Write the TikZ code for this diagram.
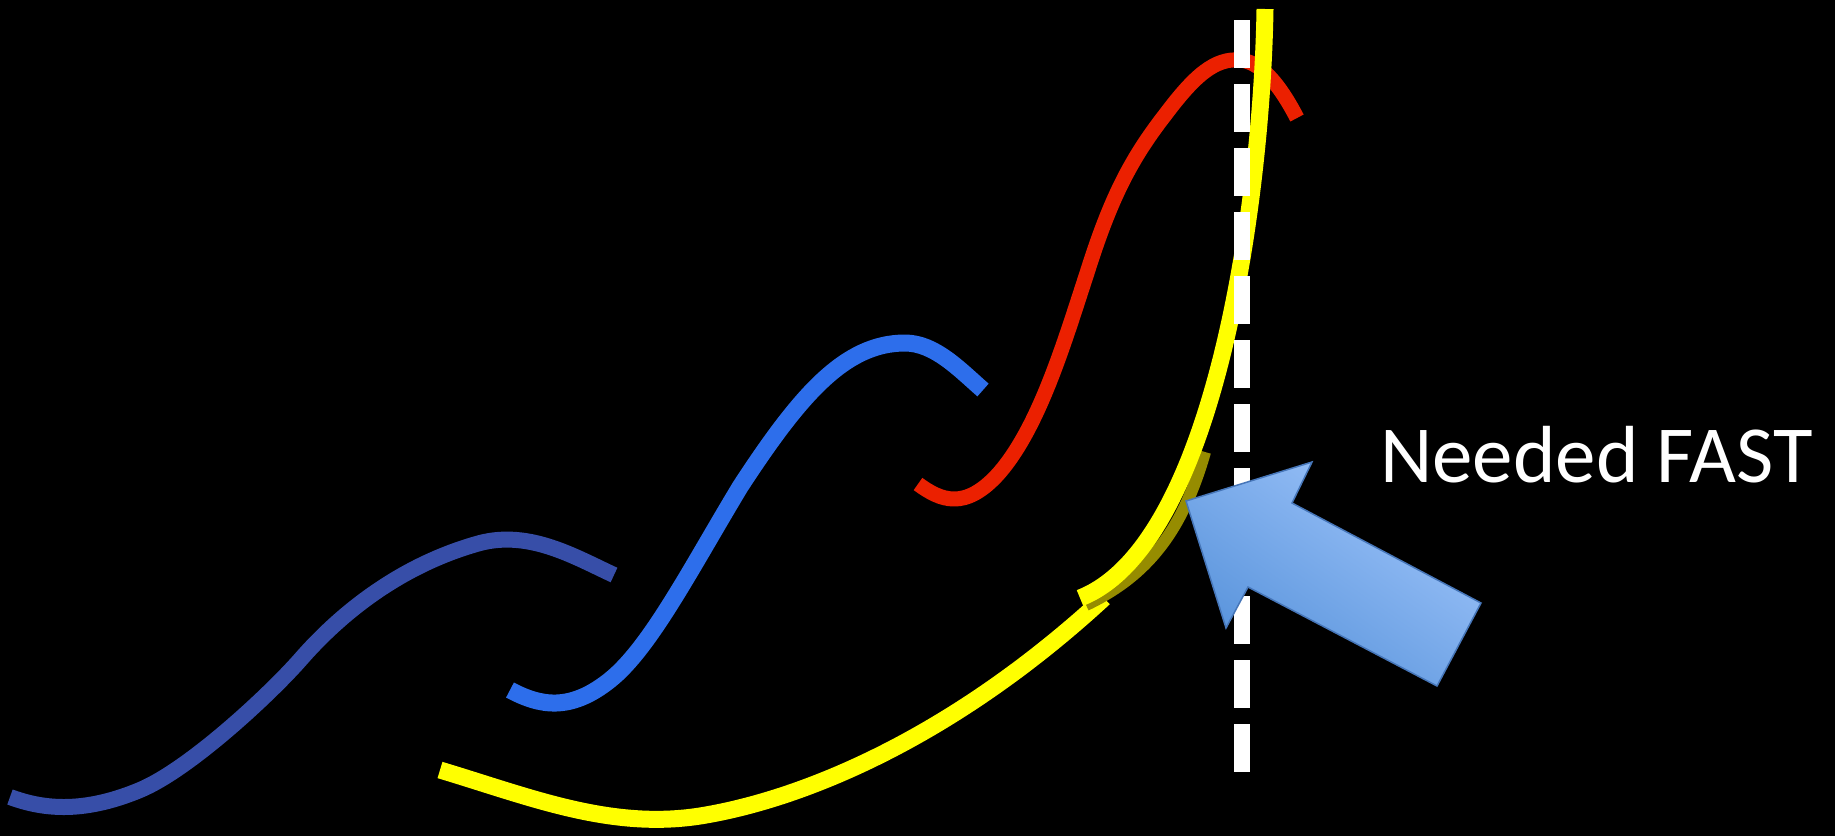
\documentclass[tikz,border=0pt]{standalone}
\usepackage{fontspec}
\setmainfont{Carlito}
\definecolor{navycurve}{RGB}{55,78,168}
\definecolor{bluecurve}{RGB}{45,110,235}
\definecolor{redcurve}{RGB}{235,32,0}
\definecolor{yellowcurve}{RGB}{255,255,0}
\definecolor{yellowshadow}{RGB}{150,140,0}
\definecolor{arrowlight}{RGB}{158,196,250}
\definecolor{arrowdark}{RGB}{85,145,218}
\definecolor{arrowborder}{RGB}{70,118,185}
\tikzset{
  wave/.style={line width=16pt, line cap=butt, line join=round},
  deadline/.style={draw=white, line width=16pt, dash pattern=on 48pt off 16pt, line cap=butt},
  fastarrow/.style={draw=arrowborder, line width=1.5pt, line join=miter, top color=arrowlight, bottom color=arrowdark, shading angle=-35},
  labeltext/.style={text=white, inner sep=0pt, font=\fontsize{81}{95}\selectfont}
}
\begin{document}
\begin{tikzpicture}[x=1pt,y=-1pt]
\useasboundingbox (0,0) rectangle (1835,836);
\fill[black] (0,0) rectangle (1835,836);

% navy curve
\draw[wave, navycurve] (10,797) .. controls (40,808) and (80,815) .. (140,790)
  .. controls (190,769) and (270,694) .. (300,660)
  .. controls (340,614) and (400,565) .. (480,543)
  .. controls (530,530) and (575,557) .. (614,575);

% blue curve
\draw[wave, bluecurve, line width=17pt] (510,690) .. controls (540,706) and (570,712) .. (610,680)
  .. controls (650,648) and (690,570) .. (740,487)
  .. controls (800,395) and (845,343) .. (905,343)
  .. controls (935,343) and (960,370) .. (983,390);

% red curve
\draw[wave, redcurve, line width=15pt] (918,484) .. controls (940,500) and (965,512) .. (1000,472)
  .. controls (1040,425) and (1065,340) .. (1087,273)
  .. controls (1110,200) and (1130,160) .. (1165,115)
  .. controls (1195,75) and (1215,58) .. (1240,60)
  .. controls (1265,62) and (1285,95) .. (1297,118);

% yellow lower curve
\draw[wave, yellowcurve, line width=17pt] (440,770) .. controls (530,797) and (610,830) .. (700,816)
  .. controls (800,800) and (950,740) .. (1104,598);

% yellow upper curve shadow
\draw[wave, yellowshadow, line width=12pt] (1086,605) .. controls (1140,579) and (1180,540) .. (1205,452);
% yellow upper curve
\draw[wave, yellowcurve, line width=17pt] (1080,598) .. controls (1215,545) and (1262,200) .. (1265,9);

% dashed deadline
\coordinate (dtop) at (1242,20);
\coordinate (dbot) at (1242,772);
\draw[deadline] (dtop) -- (dbot);

% arrow
\shade[fastarrow] (1186,501) -- (1312,462) -- (1292,503) -- (1481,603) -- (1437,686) -- (1248,587) -- (1226,628) -- cycle;

% label
\node[labeltext, anchor=base west] (label) at (1380,482) {Needed FAST};
\end{tikzpicture}
\end{document}
